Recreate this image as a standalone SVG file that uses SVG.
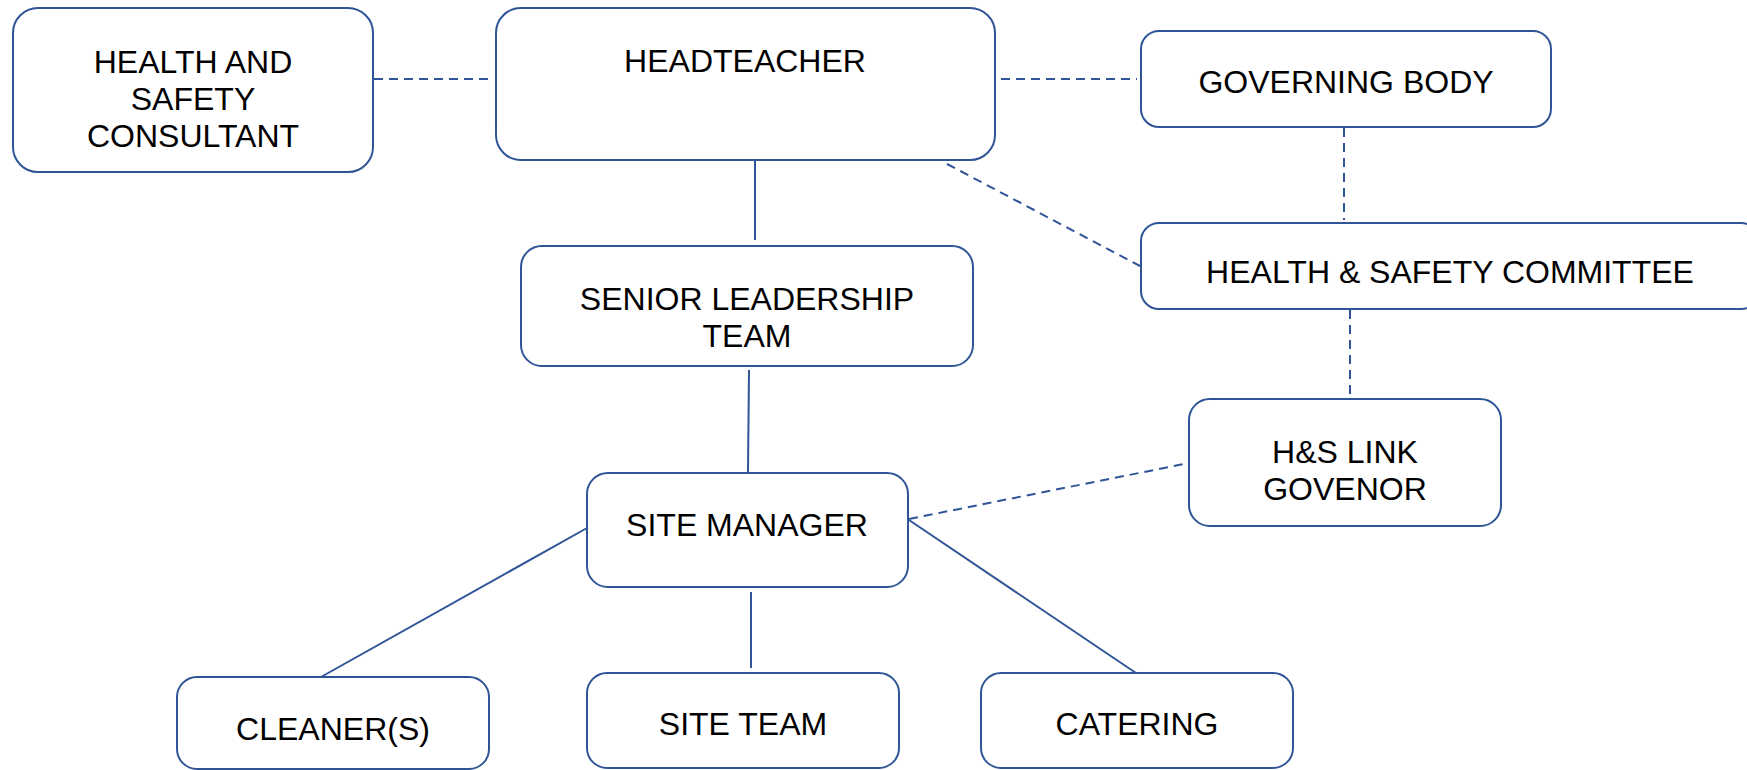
<svg xmlns="http://www.w3.org/2000/svg" width="1747" height="770" viewBox="0 0 1747 770">
<style>
.box{fill:#ffffff;stroke:#2F5597;stroke-width:2}
.t{font-family:"Liberation Sans",Arial,sans-serif;font-size:32px;fill:#000000;text-anchor:middle}
.ln{stroke:#2F5597;stroke-width:2;fill:none}
.dash{stroke-dasharray:9 6}
</style>
<rect width="1747" height="770" fill="#ffffff"/>
<g id="connectors">
<line class="ln dash" x1="374" y1="79" x2="490" y2="79"/>
<line class="ln dash" x1="1001" y1="79" x2="1137" y2="79"/>
<line class="ln dash" x1="947" y1="164" x2="1140" y2="266"/>
<line class="ln dash" x1="1344" y1="128" x2="1344" y2="220"/>
<line class="ln dash" x1="1350" y1="310" x2="1350" y2="397"/>
<line class="ln dash" x1="909" y1="519" x2="1189" y2="463"/>
<line class="ln" x1="755" y1="160" x2="755" y2="240"/>
<line class="ln" x1="749" y1="370" x2="748" y2="472"/>
<line class="ln" x1="587" y1="528" x2="321" y2="677"/>
<line class="ln" x1="751" y1="592" x2="751" y2="668"/>
<line class="ln" x1="909" y1="520" x2="1136" y2="673"/>
</g>
<g id="hs-consultant">
<rect class="box" x="13" y="8" width="360" height="164" rx="25"/>
<text class="t" x="193" y="73">HEALTH AND</text>
<text class="t" x="193" y="110">SAFETY</text>
<text class="t" x="193" y="147">CONSULTANT</text>
</g>
<g id="headteacher">
<rect class="box" x="496" y="8" width="499" height="152" rx="25"/>
<text class="t" x="745" y="72">HEADTEACHER</text>
</g>
<g id="governing-body">
<rect class="box" x="1141" y="31" width="410" height="96" rx="18"/>
<text class="t" x="1346" y="93">GOVERNING BODY</text>
</g>
<g id="hs-committee">
<rect class="box" x="1141" y="223" width="618" height="86" rx="18"/>
<text class="t" x="1450" y="283">HEALTH &amp; SAFETY COMMITTEE</text>
</g>
<g id="slt">
<rect class="box" x="521" y="246" width="452" height="120" rx="21"/>
<text class="t" x="747" y="310">SENIOR LEADERSHIP</text>
<text class="t" x="747" y="347">TEAM</text>
</g>
<g id="site-manager">
<rect class="box" x="587" y="473" width="321" height="114" rx="21"/>
<text class="t" x="747" y="536">SITE MANAGER</text>
</g>
<g id="link-governor">
<rect class="box" x="1189" y="399" width="312" height="127" rx="21"/>
<text class="t" x="1345" y="463">H&amp;S LINK</text>
<text class="t" x="1345" y="500">GOVENOR</text>
</g>
<g id="cleaners">
<rect class="box" x="177" y="677" width="312" height="92" rx="20"/>
<text class="t" x="333" y="740">CLEANER(S)</text>
</g>
<g id="site-team">
<rect class="box" x="587" y="673" width="312" height="95" rx="20"/>
<text class="t" x="743" y="735">SITE TEAM</text>
</g>
<g id="catering">
<rect class="box" x="981" y="673" width="312" height="95" rx="20"/>
<text class="t" x="1137" y="735">CATERING</text>
</g>
</svg>
